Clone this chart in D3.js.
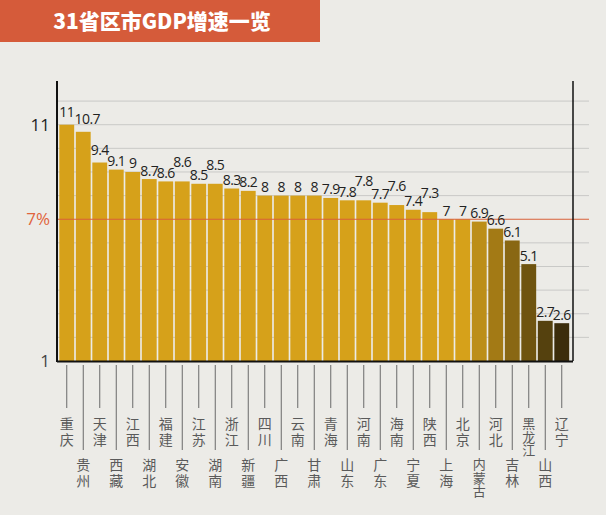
<!DOCTYPE html>
<html><head><meta charset="utf-8">
<script src="https://cdn.jsdelivr.net/npm/d3@7/dist/d3.min.js"></script>
<style>
html,body{margin:0;padding:0;background:#ECEBE7;}
svg{display:block;}
</style></head>
<body>
<script>
const title = "31省区市GDP增速一览";
const provinces = ["重庆","贵州","天津","西藏","江西","湖北","福建","安徽","江苏","湖南","浙江","新疆","四川","广西","云南","甘肃","青海","山东","河南","广东","海南","宁夏","陕西","上海","北京","内蒙古","河北","吉林","黑龙江","山西","辽宁"];
const growth = [11,10.7,9.4,9.1,9,8.7,8.6,8.6,8.5,8.5,8.3,8.2,8,8,8,8,7.9,7.8,7.8,7.7,7.6,7.4,7.3,7,7,6.9,6.6,6.1,5.1,2.7,2.6];
const yTickValues = [1,7,11];
const yTickLabels = ["1","7%","11"];
const gridValues = [2,3,4,5,6,7,8,9,10,11,12];
const refValue = 7;

const W = 606, H = 515;
const svg = d3.select("body").append("svg").attr("width", W).attr("height", H);
svg.append("rect").attr("width", W).attr("height", H).attr("fill", "#ECEBE7");

// title bar
svg.append("rect").attr("x",0).attr("y",0).attr("width",320).attr("height",42).attr("fill","#D55B3A");
svg.append("text").attr("x",162).attr("y",29).attr("text-anchor","middle")
  .attr("font-family","'Noto Sans CJK SC','Noto Sans',sans-serif").attr("font-weight","900")
  .attr("font-size",21).attr("fill","#fff").text(title);

const x = d3.scaleBand().domain(provinces).range([58.5, 570]).paddingInner(0.1).paddingOuter(0.05);
const y = d3.scaleLinear().domain([1, 12.85]).range([361, 81]);
const left = 57, right = 573, gridRight = 589;

// gridlines
svg.append("g").selectAll("line").data(gridValues.filter(v=>v!==refValue)).join("line")
  .attr("x1", left).attr("x2", gridRight).attr("y1", d=>y(d)).attr("y2", d=>y(d))
  .attr("stroke", "#C9C9C7").attr("stroke-width", 1);

// bars
const gold = d3.rgb(214,161,26), dark = d3.rgb(34,26,9);
const colorOf = i => i < 25 ? gold.toString() : d3.interpolateRgb(gold, dark)((i-24)/7);
svg.append("g").selectAll("rect").data(growth).join("rect")
  .attr("x", (d,i)=>x(provinces[i])).attr("width", x.bandwidth())
  .attr("y", d=>y(d)).attr("height", d=>y(1)-y(d))
  .attr("fill", (d,i)=>colorOf(i));

// reference line
svg.append("line").attr("x1", left).attr("x2", gridRight).attr("y1", y(refValue)).attr("y2", y(refValue))
  .attr("stroke", "#D9603A").attr("stroke-width", 1.2);

// value labels
const lifted = new Set([7,9,18,20,22]);
svg.append("g").selectAll("text").data(growth).join("text")
  .attr("x", (d,i)=>x(provinces[i]) + x.bandwidth()/2 + (i===1?4:0))
  .attr("y", (d,i)=>y(d) - (lifted.has(i) ? 14 : (i<3 ? 7.5 : 3.5)))
  .attr("text-anchor","middle")
  .attr("font-family","'Open Sans','Noto Sans',sans-serif").attr("font-size",14)
  .attr("letter-spacing","-0.5")
  .attr("fill","#222").text(d=>d);

// axes lines
svg.append("line").attr("x1",left).attr("x2",left).attr("y1",81).attr("y2",362).attr("stroke","#111").attr("stroke-width",2);
svg.append("line").attr("x1",left).attr("x2",right).attr("y1",y(1)+0.5).attr("y2",y(1)+0.5).attr("stroke","#111").attr("stroke-width",2);
svg.append("line").attr("x1",right).attr("x2",right).attr("y1",81).attr("y2",361).attr("stroke","#111").attr("stroke-width",1.5);

// y tick labels
svg.append("g").selectAll("text").data(yTickValues).join("text")
  .attr("x", 50).attr("y", d=>y(d)+6).attr("text-anchor","end")
  .attr("font-family","'Open Sans','Noto Sans',sans-serif").attr("font-size",17)
  .attr("fill", d=>d===refValue ? "#E0643C" : (d===1 ? "#444" : "#222"))
  .text((d,i)=>yTickLabels[i]);

// x ticks and vertical labels
const gx = svg.append("g");
provinces.forEach((p,i)=>{
  const cx = x(p) + x.bandwidth()/2;
  const odd = i % 2 === 0;
  gx.append("line").attr("x1",cx).attr("x2",cx).attr("y1",365).attr("y2", odd ? 408 : 450)
    .attr("stroke","#6a6a6a").attr("stroke-width",1);
  const three = Array.from(p).length > 2;
  gx.append("text").attr("x",cx).attr("y", odd ? 417 : 458)
    .attr("writing-mode","vertical-rl").attr("style","writing-mode:vertical-rl;text-orientation:upright")
    .attr("text-anchor","start")
    .attr("font-family","'Noto Sans CJK SC',sans-serif").attr("font-size", three ? 13 : 14)
    .attr("letter-spacing", three ? 0.5 : 1.5)
    .attr("fill","#5a5a5a").text(p);
});
</script>
</body></html>
